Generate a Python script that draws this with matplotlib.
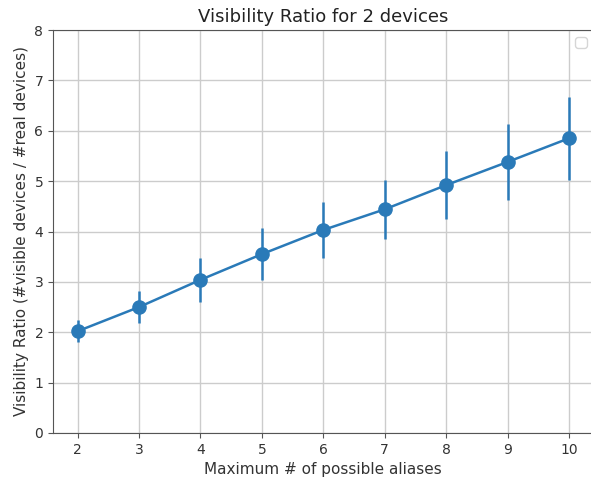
import matplotlib
matplotlib.use("Agg")
import matplotlib.pyplot as plt

aliases = [2, 3, 4, 5, 6, 7, 8, 9, 10]
ratio = [2.02, 2.50, 3.04, 3.55, 4.03, 4.44, 4.92, 5.38, 5.85]
err = [0.22, 0.32, 0.43, 0.52, 0.55, 0.58, 0.67, 0.75, 0.82]

fig = plt.figure(figsize=(5.91, 4.83), dpi=100)
ax = fig.add_axes([53/591, 50/483, 540.5/591, 403/483])
ax.errorbar(aliases, ratio, yerr=err, fmt='-o', color='#2a7ab8',
            markersize=9.5, linewidth=1.8, elinewidth=1.8, capsize=0, zorder=3)
ax.set_ylim(0, 8)
ax.set_xlim(1.6, 10.4)
ax.set_xticks(aliases)
ax.grid(True, color='#cccccc', linewidth=1.0)
ax.set_axisbelow(True)
for s in ax.spines.values():
    s.set_color('#555555')
ax.tick_params(colors='#555555', labelcolor='#333333', labelsize=10)
ax.set_title("Visibility Ratio for 2 devices", fontsize=13, color='#222222')
ax.set_xlabel("Maximum # of possible aliases", fontsize=11, color='#333333')
ax.set_ylabel("Visibility Ratio (#visible devices / #real devices)", fontsize=11, color='#333333')
ax.legend(loc='upper right')
fig.savefig("out.png", dpi=100)
